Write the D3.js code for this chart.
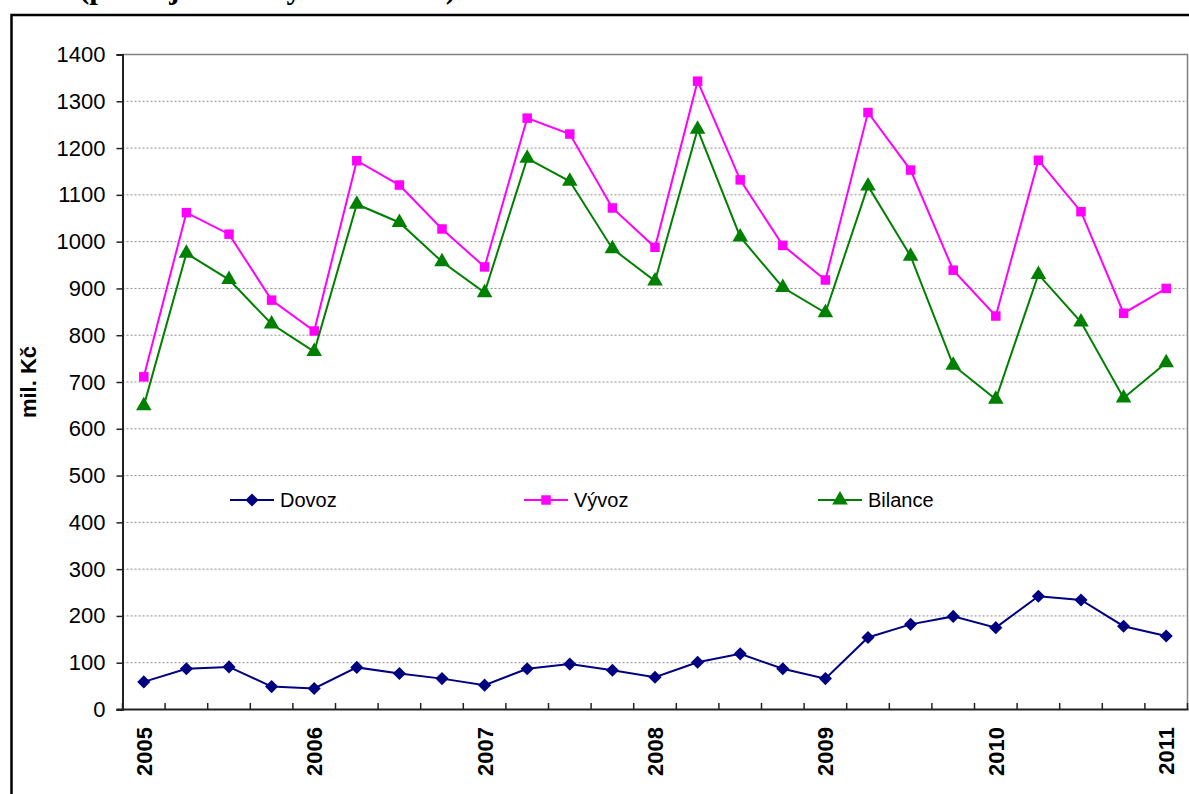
<!DOCTYPE html>
<html lang="cs">

<head>
    <meta charset="utf-8">
    <script src="https://d3js.org/d3.v7.min.js"></script>
    <title>Dovoz, vývoz a bilance</title>
    <style>
        body {
            margin: 0;
            padding: 0;
            background: #fff;
        }

        svg {
            display: block;
        }
    </style>
</head>

<body>
    <svg id="chart" width="1189" height="794"></svg>
    <script>

        // quarters 2005 Q1 .. 2011 Q1
        var quarters = ["2005 Q1", "2005 Q2", "2005 Q3", "2005 Q4",
            "2006 Q1", "2006 Q2", "2006 Q3", "2006 Q4",
            "2007 Q1", "2007 Q2", "2007 Q3", "2007 Q4",
            "2008 Q1", "2008 Q2", "2008 Q3", "2008 Q4",
            "2009 Q1", "2009 Q2", "2009 Q3", "2009 Q4",
            "2010 Q1", "2010 Q2", "2010 Q3", "2010 Q4",
            "2011 Q1"];

        // year label shown under first quarter only
        var quarterLabels = ["2005", "", "", "", "2006", "", "", "", "2007", "", "", "",
            "2008", "", "", "", "2009", "", "", "", "2010", "", "", "", "2011"];

        var dovoz = [59, 87, 91, 49, 45, 90, 77, 66, 52, 87, 97, 84,
            69, 101, 119, 87, 66, 154, 182, 199, 175, 242, 234, 178, 157];

        var vyvoz = [711, 1062, 1016, 875, 809, 1173, 1121, 1027, 946, 1264, 1230, 1072,
            988, 1343, 1132, 992, 918, 1276, 1153, 939, 841, 1174, 1064, 847, 900];

        var bilance = [649, 975, 919, 824, 765, 1080, 1041, 957, 891, 1178, 1129, 985,
            916, 1240, 1010, 902, 848, 1119, 969, 736, 663, 930, 828, 666, 741];

        var yTicks = [0, 100, 200, 300, 400, 500, 600, 700, 800, 900, 1000, 1100, 1200, 1300, 1400];

        var svg = d3.select("#chart");
        var font = "'Liberation Sans', Arial, sans-serif";

        // plot area
        var plotLeft = 122.5, plotRight = 1187.5, plotTop = 54.5, plotBottom = 709.5;

        var x = d3.scaleBand()
            .domain(quarters)
            .range([plotLeft, plotRight])
            .padding(0);

        var y = d3.scaleLinear()
            .domain([0, 1400])
            .range([plotBottom, plotTop]);

        // clipped title line at the very top (only descenders show)
        svg.append("text")
            .attr("x", 456)
            .attr("y", -2)
            .attr("text-anchor", "end")
            .style("font-family", "'Liberation Serif', 'Times New Roman', serif")
            .style("font-weight", "bold")
            .style("font-size", "31px")
            .text("Vývoz, dovoz a bilance v mil. Kč (podle jednotlivých čtvrtletí)");

        // outer frame (runs past the right and bottom edge)
        svg.append("rect")
            .attr("x", 11.5)
            .attr("y", 15)
            .attr("width", 1200)
            .attr("height", 800)
            .attr("fill", "none")
            .attr("stroke", "#000")
            .attr("stroke-width", 2.5);

        // gridlines
        svg.append("g")
            .selectAll("line")
            .data(yTicks.filter(function (d) { return d > 0 && d < 1400; }))
            .enter()
            .append("line")
            .attr("x1", plotLeft)
            .attr("x2", plotRight)
            .attr("y1", function (d) { return y(d); })
            .attr("y2", function (d) { return y(d); })
            .attr("stroke", "#8c8c8c")
            .attr("stroke-width", 1)
            .attr("stroke-dasharray", "2,2");

        // plot area border top / right
        svg.append("path")
            .attr("d", "M" + plotLeft + "," + plotTop + "H" + plotRight + "V" + plotBottom)
            .attr("fill", "none")
            .attr("stroke", "#808080")
            .attr("stroke-width", 1.5);

        // y axis
        var yAxis = svg.append("g")
            .attr("transform", "translate(" + plotLeft + ",0)")
            .call(d3.axisLeft(y).tickValues(yTicks).tickFormat(d3.format("d")).tickSize(6).tickPadding(11));
        yAxis.select(".domain").attr("stroke", "#222").attr("stroke-width", 2);
        yAxis.selectAll(".tick line").attr("stroke", "#222").attr("stroke-width", 1.5);
        yAxis.selectAll("text")
            .style("font-family", font)
            .style("font-size", "22px")
            .attr("fill", "#000");

        // x axis: ticks between quarters, pointing inwards
        var bounds = quarters.map(function (q) { return x(q); }).concat([plotRight]);
        svg.append("g")
            .selectAll("line")
            .data(bounds)
            .enter()
            .append("line")
            .attr("x1", function (d) { return d; })
            .attr("x2", function (d) { return d; })
            .attr("y1", plotBottom)
            .attr("y2", plotBottom - 6.5)
            .attr("stroke", "#222")
            .attr("stroke-width", 1.5);

        svg.append("line")
            .attr("x1", plotLeft - 6)
            .attr("x2", plotRight + 1)
            .attr("y1", plotBottom)
            .attr("y2", plotBottom)
            .attr("stroke", "#222")
            .attr("stroke-width", 2);

        svg.append("g")
            .selectAll("text")
            .data(quarters)
            .enter()
            .append("text")
            .attr("transform", function (d) {
                return "translate(" + (x(d) + x.bandwidth() / 2) + "," + (plotBottom + 17.5) + ") rotate(-90)";
            })
            .attr("text-anchor", "end")
            .attr("dy", "0.36em")
            .style("font-family", font)
            .style("font-weight", "bold")
            .style("font-size", "22px")
            .text(function (d, i) { return quarterLabels[i]; });

        // y axis title
        svg.append("text")
            .attr("transform", "translate(36," + ((plotTop + plotBottom) / 2) + ") rotate(-90)")
            .attr("text-anchor", "middle")
            .style("font-family", font)
            .style("font-weight", "bold")
            .style("font-size", "22px")
            .text("mil. Kč");

        // series
        var cx = function (d, i) { return x(quarters[i]) + x.bandwidth() / 2; };

        var series = [
            { name: "Dovoz", values: dovoz, color: "#000080", symbol: d3.symbolDiamond2, size: 110 },
            { name: "Vývoz", values: vyvoz, color: "#ff00ff", symbol: d3.symbolSquare, size: 90 },
            { name: "Bilance", values: bilance, color: "#008000", symbol: d3.symbolTriangle, size: 105 }
        ];

        var line = d3.line()
            .x(cx)
            .y(function (d) { return y(d); });

        series.forEach(function (s) {
            var g = svg.append("g");
            g.append("path")
                .datum(s.values)
                .attr("d", line)
                .attr("fill", "none")
                .attr("stroke", s.color)
                .attr("stroke-width", 2);

            g.selectAll("path.marker")
                .data(s.values)
                .enter()
                .append("path")
                .attr("class", "marker")
                .attr("d", d3.symbol().type(s.symbol).size(s.size))
                .attr("transform", function (d, i) {
                    return "translate(" + cx(d, i) + "," + y(d) + ")";
                })
                .attr("fill", s.color);
        });

        // legend
        var legendX = [230, 524, 818];
        var legendY = 500;
        series.forEach(function (s, i) {
            var g = svg.append("g")
                .attr("transform", "translate(" + legendX[i] + "," + legendY + ")");
            g.append("line")
                .attr("x1", 0)
                .attr("x2", 44)
                .attr("stroke", s.color)
                .attr("stroke-width", 2);
            g.append("path")
                .attr("d", d3.symbol().type(s.symbol).size(s.size))
                .attr("transform", "translate(22,0)")
                .attr("fill", s.color);
            g.append("text")
                .attr("x", 50)
                .attr("dy", "0.36em")
                .style("font-family", font)
                .style("font-size", "20px")
                .text(s.name);
        });

    </script>
</body>

</html>
